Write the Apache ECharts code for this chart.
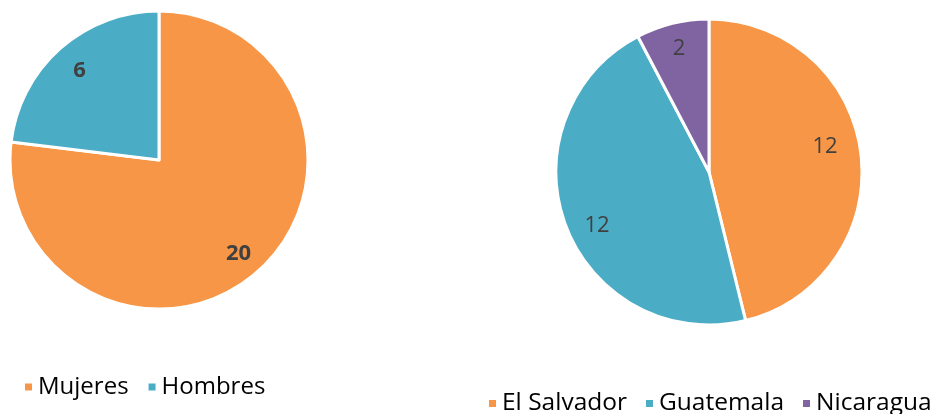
<!DOCTYPE html>
<html><head><meta charset="utf-8">
<script src="https://cdn.jsdelivr.net/npm/echarts@6/dist/echarts.min.js"></script>
<style>html,body{margin:0;padding:0;background:#fff}#c{width:937px;height:414px}</style>
</head><body><div id="c"></div>
<script>
const genderCats = ['Mujeres', 'Hombres'];
const genderVals = [20, 6];
const countryCats = ['El Salvador', 'Guatemala', 'Nicaragua'];
const countryVals = [12, 12, 2];
const colors = ['#F79646', '#4BACC6', '#8064A2'];
const countryLabelNudge = [[-8,-10],[5,9],[0,-2]];
const genderLabelNudge = [[-2,2],[2,3]];

const chart = echarts.init(document.getElementById('c'));
const FONT = '"Open Sans", sans-serif';
function mk(cats, vals){ return cats.map((n,i)=>({name:n, value:vals[i], itemStyle:{color:colors[i]}})); }
function pieMain(cats, vals, center, r){
  return {type:'pie', center:center, radius:[0,r], startAngle:90, clockwise:true,
    data:mk(cats,vals), label:{show:false}, labelLine:{show:false},
    itemStyle:{borderColor:'#fff', borderWidth:3}, emphasis:{disabled:true}, animation:false, silent:true};
}
function pieLabels(cats, vals, center, mid, bold, nudge){
  return {type:'pie', center:center, radius:[mid-30, mid+30], startAngle:90, clockwise:true,
    data:mk(cats,vals).map((d,i)=>Object.assign(d,{itemStyle:{color:'rgba(0,0,0,0)'},
      label: nudge ? {offset:nudge[i]} : {}})),
    label:{show:true, position:'inside', formatter:'{c}', color:'#404040', fontSize:22, fontFamily:FONT, fontWeight:bold?'bold':'normal'},
    labelLine:{show:false}, emphasis:{disabled:true}, animation:false, silent:true, legendHoverLink:false};
}
chart.setOption({
  animation:false,
  legend:[
    {data:genderCats, left:18, top:370, icon:'rect', itemWidth:9, itemHeight:9, itemGap:18,
     textStyle:{fontSize:24, fontFamily:FONT, color:'#000'}},
    {data:countryCats, left:482, top:386, width:455, icon:'rect', itemWidth:9, itemHeight:9, itemGap:17,
     textStyle:{fontSize:24.5, fontFamily:FONT, color:'#000'}}
  ],
  series:[
    pieMain(genderCats, genderVals, [159,160], 149),
    pieLabels(genderCats, genderVals, [159,160], 120, true, genderLabelNudge),
    pieMain(countryCats, countryVals, [709,172], 153),
    pieLabels(countryCats, countryVals, [709,172], 122, false, countryLabelNudge)
  ]
});
</script></body></html>
